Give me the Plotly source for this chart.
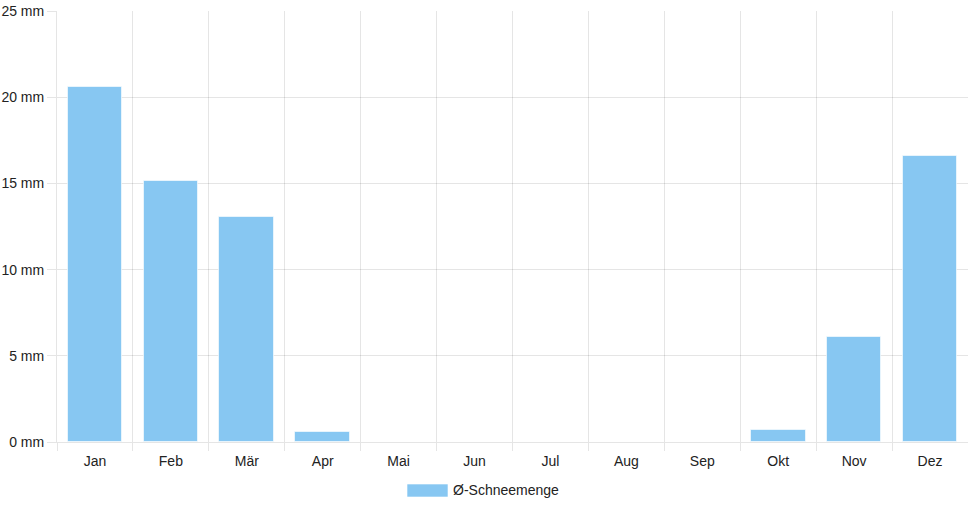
import plotly.graph_objects as go

months = ["Jan", "Feb", "Mär", "Apr", "Mai", "Jun", "Jul", "Aug", "Sep", "Okt", "Nov", "Dez"]
snow_mm = [20.6, 15.15, 13.05, 0.6, 0, 0, 0, 0, 0, 0.7, 6.1, 16.6]
y_ticks = [0, 5, 10, 15, 20, 25]
y_tick_labels = [f"{v} mm" for v in y_ticks]
series_name = "Ø-Schneemenge"

bar_color = "rgb(135,199,242)"
grid = "rgba(0,0,0,0.1)"
font = dict(family="Liberation Sans, Arial, sans-serif", size=14, color="#222")

x_idx = list(range(len(months)))
bounds = [i - 0.5 for i in range(len(months) + 1)]

fig = go.Figure()
fig.add_trace(go.Bar(
    x=x_idx, y=snow_mm, name=series_name, width=0.72,
    marker=dict(color=bar_color, line=dict(color="rgba(255,255,255,0.6)", width=1)),
    showlegend=False,
))

fig.update_layout(
    width=968, height=508,
    margin=dict(l=57, r=0, t=11, b=66, autoexpand=False),
    paper_bgcolor="white", plot_bgcolor="white",
    font=font,
    bargap=0,
    xaxis=dict(
        range=[-0.5, 11.5], automargin=False,
        tickmode="array", tickvals=x_idx, ticktext=months,
        ticks="", showgrid=False, zeroline=False,
        showline=True, linecolor=grid, linewidth=1,
        ticklabelstandoff=6,
        minor=dict(tickmode="array", tickvals=bounds, ticks="outside", ticklen=8,
                   tickcolor=grid, showgrid=True, gridcolor=grid, gridwidth=1),
        fixedrange=True,
    ),
    yaxis=dict(
        range=[0, 25], automargin=False,
        tickmode="array", tickvals=y_ticks, ticktext=y_tick_labels,
        ticks="outside", ticklen=9, tickcolor=grid,
        showgrid=True, gridcolor=grid, zeroline=False,
        showline=True, linecolor=grid, linewidth=1,
        ticklabelstandoff=0,
        fixedrange=True,
    ),
)

# legend drawn manually (box + label)
fig.add_shape(type="rect", xref="paper", yref="paper",
              x0=(407 - 57) / 911, x1=(448 - 57) / 911,
              y0=-(497 - 442) / 431, y1=-(484 - 442) / 431,
              fillcolor=bar_color, line=dict(color="rgba(255,255,255,0.6)", width=1))
fig.add_annotation(xref="paper", yref="paper", x=(451 - 57) / 911, y=-(490 - 442) / 431,
                   text=series_name, showarrow=False, xanchor="left", yanchor="middle",
                   font=font)

fig.write_html("out.html", config={"displayModeBar": False},
               post_script="document.body.style.margin='0';document.body.style.overflow='hidden';")
